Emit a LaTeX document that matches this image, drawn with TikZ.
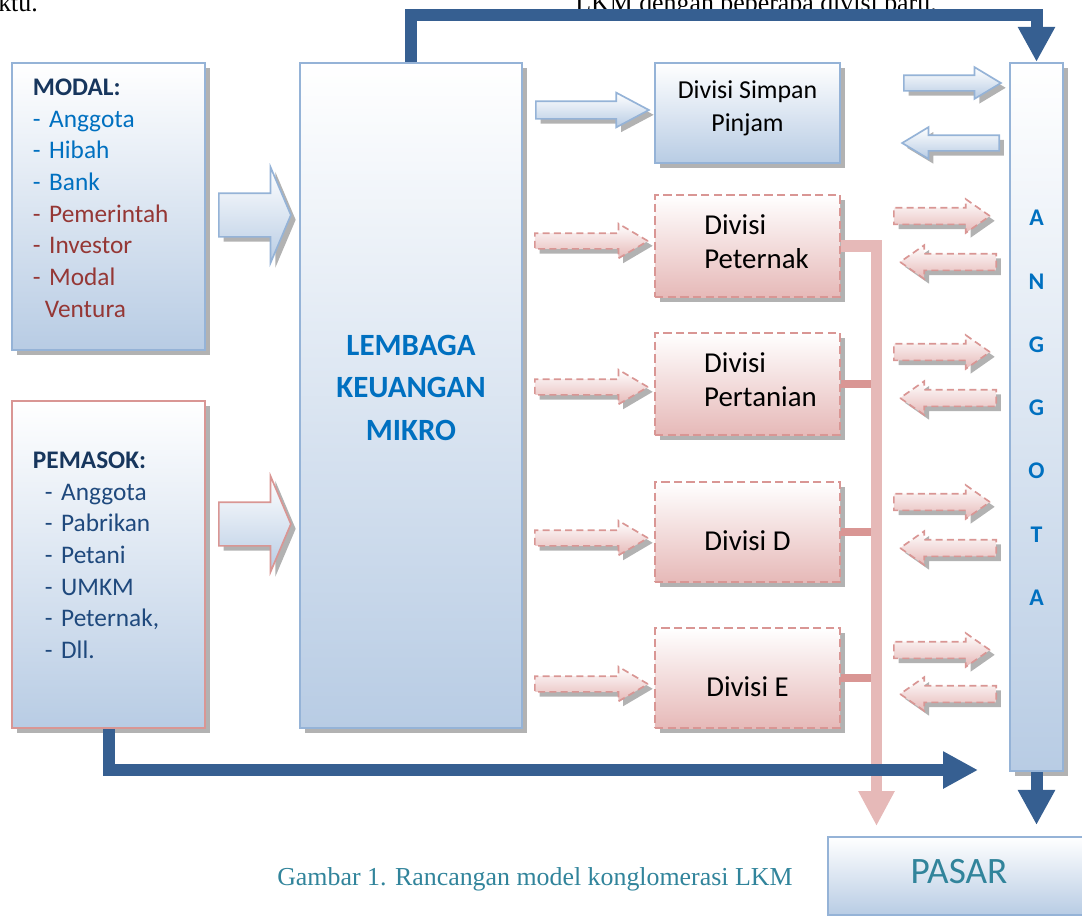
\documentclass[tikz,border=0pt]{standalone}
\usepackage{fontspec}
\setmainfont{Carlito}
\newfontfamily\capfont{Liberation Serif}
\usetikzlibrary{shapes.arrows,shadows,arrows.meta,calc}

\definecolor{boxblue}{HTML}{B8CCE4}
\definecolor{lineblue}{HTML}{95B3D7}
\definecolor{boxpink}{HTML}{E6B9B8}
\definecolor{linepink}{HTML}{D99694}
\definecolor{darkblue}{HTML}{365F91}
\definecolor{txtblue}{HTML}{0070C0}
\definecolor{txtred}{HTML}{953735}
\definecolor{txtnavy}{HTML}{17365D}
\definecolor{txtdark}{HTML}{1F497D}
\definecolor{captionteal}{HTML}{31849B}

\begin{document}
\begin{tikzpicture}[x=0.025cm, y=-0.025cm,
    hatch/.style={drop shadow={shadow xshift=0.12cm, shadow yshift=-0.12cm, fill=gray!60, opacity=1}},
    bluebox/.style={draw=lineblue, line width=1.5pt, top color=white, bottom color=boxblue, hatch},
    pinkbox/.style={draw=linepink, line width=1.5pt, dash pattern=on 6pt off 3pt, top color=white, bottom color=boxpink, hatch},
    arr/.style={single arrow, inner xsep=0pt, anchor=tail, line width=1.2pt, top color=white, hatch},
    bigarrow/.style={arr, bottom color=boxblue, inner ysep=0.525cm, single arrow head extend=0.65cm, single arrow tip angle=134, minimum height=1.8cm},
    bluearrow/.style={arr, draw=lineblue, bottom color=boxblue, inner ysep=0.2cm, single arrow head extend=0.2125cm, single arrow tip angle=56, minimum height=2.825cm},
    pinkarrow/.style={arr, draw=linepink, dash pattern=on 5pt off 3pt, bottom color=boxpink, inner ysep=0.175cm, single arrow head extend=0.2375cm, single arrow tip angle=61, minimum height=2.825cm},
    sidearrow/.style={arr, draw=lineblue, bottom color=boxblue, inner ysep=0.175cm, single arrow head extend=0.2cm, single arrow tip angle=62, minimum height=2.425cm},
    pinkside/.style={arr, draw=linepink, dash pattern=on 5pt off 3pt, bottom color=boxpink, inner ysep=0.1875cm, single arrow head extend=0.2125cm, single arrow tip angle=70, minimum height=2.4cm},
    flow/.style={draw=darkblue, line width=0.3cm, -{Triangle[width=0.875cm,length=0.875cm]}},
    pinkflow/.style={draw=boxpink, line width=0.28cm, -{Triangle[width=0.85cm,length=0.875cm]}},
    stub/.style={draw=linepink, line width=0.18cm},
    divfont/.style={font=\fontsize{20.5}{24}\selectfont},
    listfont/.style={font=\fontsize{18}{22.5}\selectfont}]
    \useasboundingbox (0,0) rectangle (1082,917);

    % Cut text at the top.
    \node[font=\capfont\fontsize{18.4}{20}\selectfont, anchor=base west, inner sep=0pt] (prevleft) at (-2,11) {ktu.};
    \node[font=\capfont\fontsize{18.4}{20}\selectfont, anchor=base west, inner sep=0pt] (prevright) at (575,11) {LKM dengan beberapa divisi baru.};

    % Sources.
    \node[bluebox, listfont, minimum width=4.825cm, minimum height=7.175cm, inner xsep=0.525cm, text width=3.775cm, align=left] (modal) at (108.5,206.5)
        {\raisebox{4.6pt}[\height][\depth]{\begin{tabular}{@{}l@{}}
         \textcolor{txtnavy}{\textbf{MODAL:}}\\
         \textcolor{txtblue}{- Anggota}\\
         \textcolor{txtblue}{- Hibah}\\
         \textcolor{txtblue}{- Bank}\\
         \textcolor{txtred}{- Pemerintah}\\
         \textcolor{txtred}{- Investor}\\
         \textcolor{txtred}{- Modal}\\
         \hspace*{0.3cm}\textcolor{txtred}{Ventura}
         \end{tabular}}};
    \node[bluebox, listfont, draw=linepink, minimum width=4.825cm, minimum height=8.175cm, inner xsep=0.525cm, text width=3.775cm, align=left,
          text=txtdark] (pemasok) at (108.5,564.5)
        {\raisebox{5.3pt}[\height][\depth]{\begin{tabular}{@{}l@{}}
         \textcolor{txtnavy}{\textbf{PEMASOK:}}\\
         \hspace*{0.3cm}- Anggota\\
         \hspace*{0.3cm}- Pabrikan\\
         \hspace*{0.3cm}- Petani\\
         \hspace*{0.3cm}- UMKM\\
         \hspace*{0.3cm}- Peternak,\\
         \hspace*{0.3cm}- Dll.
         \end{tabular}}};

    % LKM.
    \node[bluebox, minimum width=5.55cm, minimum height=16.625cm, align=center, text=txtblue, text depth=11pt,
          font=\fontsize{22}{30.5}\selectfont\bfseries] (lkm) at (411,395.5) {LEMBAGA\\KEUANGAN\\MIKRO};

    % Divisions.
    \node[bluebox, font=\fontsize{18.4}{23.4}\selectfont, minimum width=4.625cm, minimum height=2.5cm, align=center,
          text depth=10pt] (simpan) at (747.5,113) {Divisi Simpan\\Pinjam};
    \node[pinkbox, divfont, minimum width=4.625cm, minimum height=2.55cm, align=left, text depth=6pt] (peternak) at (747.5,246)
        {\hspace*{0.45cm}Divisi\\\hspace*{0.45cm}Peternak};
    \node[pinkbox, divfont, minimum width=4.625cm, minimum height=2.55cm, align=left, text depth=6pt] (pertanian) at (747.5,384)
        {\hspace*{0.65cm}Divisi\\\hspace*{0.65cm}Pertanian};
    \node[pinkbox, divfont, minimum width=4.625cm, minimum height=2.5cm, text height=27pt] (divd) at (747.5,532) {Divisi D};
    \node[pinkbox, divfont, minimum width=4.625cm, minimum height=2.5cm, text height=27pt] (dive) at (747.5,678) {Divisi E};

    % Members and market.
    \node[bluebox, minimum width=1.325cm, minimum height=17.7cm, align=center, text=txtblue, text depth=13pt,
          font=\fontsize{17}{45}\selectfont\bfseries] (anggota) at (1036.5,417) {A\\N\\G\\G\\O\\T\\A};
    \node[draw=lineblue, line width=1.5pt, top color=white, bottom color=boxblue, minimum width=6.55cm, minimum height=1.95cm,
          text=captionteal, text depth=7pt, font=\fontsize{26.5}{30}\selectfont] (pasar) at (959,876) {PASAR};

    % Block arrows.
    \node[bigarrow, draw=lineblue] (inmodal) at (218,215) {};
    \node[bigarrow, draw=linepink] (inpemasok) at (218,524) {};
    \node[bluearrow] (tosimpan) at (535,110) {};
    \foreach \y in {241,387,538,684}
        \node[pinkarrow] (todiv\y) at (534,\y) {};
    \node[sidearrow] (simpanout) at (903,83) {};
    \node[sidearrow, shape border rotate=180] (simpanin) at (1000,143) {};
    \foreach \y in {216,352,502,650}
        \node[pinkside] (out\y) at (893,\y) {};
    \foreach \y in {262,398,548,694}
        \node[pinkside, shape border rotate=180] (in\y) at (997,\y) {};

    % Pink bar to the market.
    \coordinate (drop) at (876.5,826);
    \foreach \n in {pertanian,divd,dive}
        \draw[stub] (\n.east) -- (\n.east -| drop);
    \draw[pinkflow] (peternak.east) -| (drop);

    % Blue flows.
    \coordinate (mkt) at (978,770);
    \draw[flow] (lkm.north) -- ++(0,-47) -| (anggota.north);
    \draw[flow] (pemasok.south) |- (mkt);
    \draw[flow, shorten >=0.275cm] (anggota.south) -- (anggota.south |- pasar.north);

    % Caption.
    \node[font=\capfont\fontsize{18.4}{20}\selectfont, text=captionteal, anchor=base west, inner sep=0pt] (caption) at (277,885)
        {Gambar 1. Rancangan model konglomerasi LKM};
\end{tikzpicture}
\end{document}
